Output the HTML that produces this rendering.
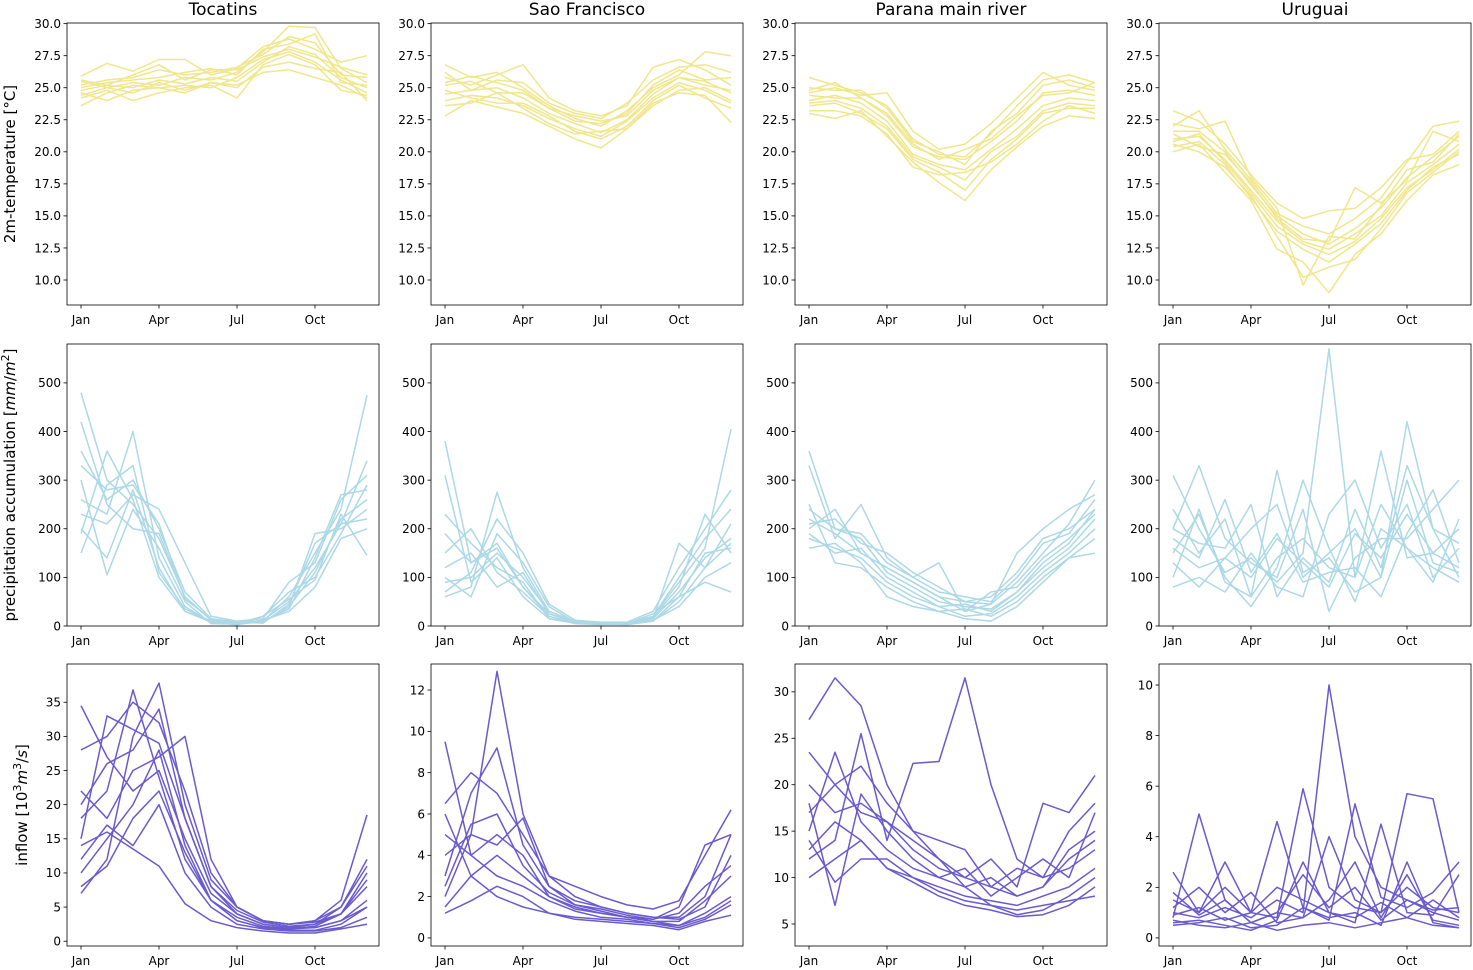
<!DOCTYPE html>
<html><head><meta charset="utf-8">
<style>
html,body{margin:0;padding:0;background:#fff;}
svg{display:block;font-family:"DejaVu Sans","Liberation Sans",sans-serif;}
</style></head>
<body>
<svg id="fig" width="1473" height="970" viewBox="0 0 1473 970" xmlns="http://www.w3.org/2000/svg"></svg>
<script>
const basins = ["Tocatins","Sao Francisco","Parana main river","Uruguai"];
const monthTicks = ["Jan","Apr","Jul","Oct"];
const monthTickIdx = [0,3,6,9];

const tempTicks = [10,12.5,15,17.5,20,22.5,25,27.5,30];
const precTicks = [0,100,200,300,400,500];
const inflowTicks1 = [0,5,10,15,20,25,30,35];
const inflowTicks2 = [0,2,4,6,8,10,12];
const inflowTicks3 = [5,10,15,20,25,30];
const inflowTicks4 = [0,2,4,6,8,10];

const tempToc = [
[24.8,25.2,25.0,25.6,25.3,25.8,25.5,27.0,28.2,27.6,25.8,25.0],
[25.5,25.0,25.4,25.2,25.8,25.6,26.2,27.8,29.8,29.7,26.5,25.4],
[23.6,24.6,25.2,25.0,24.6,25.4,25.0,26.6,27.0,26.5,26.2,24.0],
[25.9,26.9,26.3,27.2,27.2,26.0,26.5,28.2,28.8,28.0,27.0,27.5],
[24.2,24.8,24.0,24.6,25.0,25.2,24.2,26.8,27.6,26.8,24.8,24.4],
[25.2,25.6,25.8,26.4,26.0,26.2,26.6,27.6,29.0,28.5,26.0,25.8],
[24.6,24.0,24.8,25.0,25.2,25.0,25.8,27.2,27.8,27.0,25.6,24.6],
[25.0,25.4,25.6,25.8,26.2,26.5,26.0,28.0,28.4,29.2,25.4,25.2],
[24.4,25.0,24.6,25.4,24.8,25.4,25.2,26.2,26.4,25.8,25.2,24.2],
[25.6,25.2,26.0,26.8,25.6,26.4,26.4,27.4,28.0,27.4,26.6,26.0]];
const tempSao = [
[24.5,24.8,25.0,24.2,23.0,22.2,21.5,22.5,24.5,25.8,25.5,24.6],
[26.8,25.8,26.2,25.0,23.6,22.6,22.0,23.2,25.0,26.0,27.8,27.5],
[22.8,24.0,23.5,23.0,22.0,21.0,20.3,21.8,23.8,24.6,24.4,22.3],
[25.8,25.2,26.0,26.8,24.2,23.2,22.8,23.6,26.6,27.2,26.4,25.2],
[24.0,24.4,24.2,23.6,22.6,21.8,21.2,22.4,24.2,25.4,24.8,23.8],
[25.2,25.5,24.6,24.6,23.4,22.4,22.2,23.0,25.2,26.4,25.6,25.8],
[23.6,23.8,24.6,23.4,22.2,21.4,21.6,21.8,23.6,24.8,25.0,24.0],
[26.2,24.8,25.6,25.4,23.8,23.0,22.6,23.8,25.6,26.6,26.8,26.2],
[24.8,24.2,23.8,23.8,22.8,21.6,21.0,22.0,24.0,25.2,24.2,23.4],
[25.4,25.9,25.4,24.8,23.4,22.8,22.4,22.8,24.8,25.8,25.2,24.8]];
const tempPar = [
[24.0,24.4,23.8,22.4,19.8,19.0,18.6,20.2,21.8,23.6,24.2,24.0],
[25.8,25.2,24.6,23.6,21.0,19.8,19.6,21.4,23.6,25.6,26.0,25.4],
[23.0,22.6,23.2,21.2,19.2,17.6,16.2,18.6,20.4,22.0,22.8,22.6],
[24.6,25.0,24.4,24.6,21.6,20.2,20.6,22.2,24.2,26.2,25.2,24.8],
[23.6,23.8,23.0,21.8,19.4,18.4,17.0,19.4,21.0,23.0,23.4,23.4],
[24.4,24.2,24.2,22.8,20.4,19.6,19.4,20.8,22.4,24.6,24.8,24.4],
[23.2,23.2,22.8,21.4,18.8,18.2,18.4,19.2,20.6,22.4,23.6,23.0],
[25.0,24.8,24.8,23.4,20.8,20.0,19.0,21.6,23.0,25.2,25.6,25.0],
[23.8,24.0,23.4,22.0,19.6,18.8,17.8,20.0,21.2,23.2,23.8,23.6],
[24.8,25.4,24.2,23.0,20.6,19.4,20.2,21.0,22.8,24.4,24.6,25.4]];
const tempUru = [
[21.0,21.2,19.4,17.0,14.6,13.0,12.4,13.6,15.0,17.6,19.0,20.6],
[23.2,22.4,20.6,18.2,16.0,14.8,15.4,15.6,17.2,19.4,19.8,21.6],
[20.0,20.6,18.4,16.2,12.4,11.4,9.0,12.0,13.6,16.2,18.2,19.0],
[22.0,23.2,20.2,17.8,15.2,14.2,13.6,14.8,16.4,19.2,22.0,22.4],
[20.6,20.0,18.8,16.6,13.4,10.2,11.0,11.6,14.0,16.8,18.4,20.0],
[21.6,21.6,20.0,17.4,15.0,13.6,12.8,14.0,15.6,18.0,19.6,21.2],
[20.4,20.8,19.0,16.4,13.8,12.4,11.4,12.8,14.4,17.0,18.8,19.8],
[22.2,21.8,22.4,18.0,15.6,9.6,13.4,13.2,15.8,18.6,19.2,21.4],
[20.8,21.4,19.2,16.8,14.2,12.8,12.0,13.0,14.8,17.2,18.6,20.2],
[21.4,20.4,19.8,17.6,14.8,13.2,13.0,17.2,16.0,17.8,21.6,20.8]];

const precToc = [
[480,300,250,180,60,12,5,8,40,110,220,260],
[260,230,400,140,40,8,3,10,60,150,240,475],
[200,140,280,120,30,10,2,20,70,100,190,290],
[360,260,300,200,70,15,8,6,45,170,210,340],
[300,105,240,160,50,5,4,12,30,80,180,200],
[230,210,270,240,130,20,10,15,90,130,260,310],
[150,290,330,110,35,10,5,20,55,95,230,145],
[420,250,200,190,60,12,6,8,40,190,200,240],
[190,360,260,100,30,8,4,12,50,120,210,220],
[330,280,290,210,55,15,8,10,35,140,270,280]];
const precSao = [
[380,130,160,80,25,8,5,5,15,70,140,180],
[60,80,275,120,30,10,5,6,20,90,160,405],
[230,170,120,90,15,6,4,3,10,50,120,170],
[100,60,190,130,40,8,6,5,20,100,180,240],
[150,200,110,70,20,5,3,4,12,40,100,130],
[70,110,220,150,45,12,8,8,30,120,200,280],
[310,90,140,60,15,6,5,3,10,60,90,70],
[120,150,80,110,25,8,4,5,18,80,230,150],
[190,130,170,80,20,7,5,4,15,170,120,210],
[90,100,150,100,30,9,6,5,25,60,150,160]];
const precPar = [
[360,200,180,110,80,50,40,35,70,130,170,240],
[200,240,150,120,90,60,30,45,90,150,210,300],
[180,160,140,90,60,40,20,25,60,110,150,200],
[330,180,250,140,100,70,60,50,100,170,190,260],
[250,130,120,80,50,30,35,20,50,100,140,180],
[210,220,170,150,110,80,50,60,110,180,200,240],
[190,150,160,100,70,40,45,30,70,120,160,220],
[240,200,190,130,100,130,30,70,80,140,180,230],
[160,170,130,60,40,30,15,10,40,90,140,150],
[220,190,150,120,90,60,50,45,150,200,240,270]];
const precUru = [
[160,120,140,100,180,130,80,190,140,230,150,120],
[310,200,110,140,90,150,570,100,250,160,120,90],
[100,240,90,60,320,110,140,70,100,420,200,170],
[200,330,180,130,100,240,30,140,180,180,240,300],
[130,80,140,200,250,100,150,200,100,300,130,110],
[240,150,220,60,140,180,120,100,360,140,150,200],
[80,100,70,150,80,60,230,300,160,250,100,160],
[180,140,260,110,190,90,110,120,60,190,280,130],
[150,230,100,40,120,300,160,50,200,160,90,220],
[200,170,160,250,60,140,90,240,120,330,200,100]];

const inflowToc = [
[34.5,27,22,25,15,7,4,2.5,2,2.5,4,10],
[7,12,30,37.8,20,9,5,3,2.5,3,5,12],
[15,33,31,29,18,8,4,2.5,2,2,3,6],
[22,18,25,27,30,12,5,3,2.5,2.8,4,8],
[10,15,20,28,14,6,3,2,1.8,2,3,5],
[28,30,35,32,22,10,5,3,2.5,3,6,18.5],
[12,17,14,20,10,5,2.5,1.8,1.5,1.5,2,3.5],
[18,22,36.8,24,12,6,3.5,2.2,1.8,2.2,4,9],
[8,11,18,22,13,6,3,2,1.6,1.6,2.5,5],
[20,26,28,34,18,8,4.5,2.8,2.2,2.5,5,11],
[14,16,13.5,11,5.5,3,2,1.5,1.2,1.2,1.8,2.5]];
const inflowSao = [
[9.5,4,5,4,2,1.5,1.2,1,0.8,0.8,1.8,3],
[2,5,12.9,6,3,2,1.5,1.2,1,1,2,5],
[6.5,8,7,5,3,2.5,2,1.6,1.4,1.8,4,6.2],
[1.5,3,4,3,2,1.4,1.2,1,0.8,0.6,1.2,2],
[5,4,3,2.5,1.8,1.3,1,0.9,0.7,0.6,1,1.8],
[3,7,9.2,4.5,2.5,1.8,1.5,1.2,1,0.9,1.5,4],
[1.2,1.8,2.5,2.0,1.2,0.9,0.8,0.7,0.6,0.4,0.8,1.1],
[4,5,4.5,5.8,2.5,1.6,1.3,1,0.9,1.2,2.5,3.5],
[6,3,2,1.5,1.2,1,0.9,0.8,0.7,0.5,0.9,1.6],
[2.5,5.5,6,3.5,2.2,1.6,1.4,1.1,0.9,1.5,4.5,5]];
const inflowPar = [
[27,31.5,28.5,20,15,12,10,9,8,9,12,14],
[12,14,25.5,14,22.3,22.5,31.5,20,12,10,11,13],
[15,23.5,16,13,11,10,9,7,6,6.5,8,10],
[20,17,18,16,13,11,10,12,9,18,17,21],
[10,12,14,11,9.5,8,7,6.5,5.8,6,7,9],
[23.5,20,22,18,15,14,13,9,11,10,15,18],
[14,9.5,12,12,10,8.5,7.5,7,6.5,7,7.5,8],
[18,7,19,15,12,10,11,8,10,12,10,17],
[13,16,14,11,10,9,8,7.5,7,8,9,11],
[17,20,17,16,14,12,9,10,8,9,13,15]];
const inflowUru = [
[1,0.8,1.2,0.8,1.5,1,10,4,2,1.5,1,0.7],
[2.6,1,3,1,0.8,5.9,2,1.2,1,5.7,5.5,1],
[0.8,4.9,1.5,0.6,1,0.8,1.5,3,0.8,2.5,0.7,0.5],
[0.6,0.7,0.5,0.3,0.7,3,1,0.6,4.5,1,0.9,2.5],
[1.5,1,2,1,4.6,1.2,0.7,5.3,1.6,1.2,1.8,3],
[0.5,0.6,0.8,0.4,0.5,1.2,0.8,1,0.5,3,0.6,0.4],
[1.2,2,1,1.8,0.6,0.8,4,1.5,1,2,1.2,1],
[0.9,1.2,0.7,1,2,1.5,1,0.8,1.4,0.8,1.5,0.8],
[1.8,0.9,1.5,0.6,1,2.5,1.2,2,0.7,1.5,1.1,1.2],
[0.7,0.5,0.4,0.6,0.3,0.5,0.6,0.4,0.6,0.8,0.5,0.4]];

const NS = "http://www.w3.org/2000/svg";
const svg = document.getElementById("fig");
function mk(tag, attrs, parent){
  const e = document.createElementNS(NS, tag);
  for (const k in attrs) e.setAttribute(k, attrs[k]);
  (parent||svg).appendChild(e);
  return e;
}
const colX = [67,431,795,1159];
const rowY = [23,344,664];
const W = 312, H = 282;
const panels = [
 {row:0,data:[tempToc,tempSao,tempPar,tempUru],ticks:[tempTicks,tempTicks,tempTicks,tempTicks],ylim:[[8.05,30.05],[8.05,30.05],[8.05,30.05],[8.05,30.05]],fmt:v=>v.toFixed(1),color:"#f0e68c",key:"temp"},
 {row:1,data:[precToc,precSao,precPar,precUru],ticks:[precTicks,precTicks,precTicks,precTicks],ylim:[[0,580],[0,580],[0,580],[0,580]],fmt:v=>String(v),color:"#add8e6",key:"precip"},
 {row:2,data:[inflowToc,inflowSao,inflowPar,inflowUru],ticks:[inflowTicks1,inflowTicks2,inflowTicks3,inflowTicks4],ylim:[[-0.7,40.6],[-0.39,13.26],[2.63,33.0],[-0.32,10.83]],fmt:v=>String(v),color:"#6a5acd",key:"inflow"}
];

panels.forEach(p=>{
  for (let c=0;c<4;c++){
    const x0 = colX[c], y0 = rowY[p.row];
    const g = mk("g",{});
    
    
    const [ymin,ymax] = p.ylim[c];
    const xs = i => x0 + 14 + i*26;
    const ys = v => y0 + H - (v-ymin)/(ymax-ymin)*H;
    // lines
    p.data[c].forEach((series,si)=>{
      const pts = series.map((v,i)=>xs(i).toFixed(1)+","+ys(v).toFixed(1)).join(" ");
      const pl = mk("polyline",{points:pts,fill:"none",stroke:p.color,"stroke-width":1.5,"stroke-linejoin":"round"},g);
      
      
    });
    // frame
    const fr = mk("rect",{x:x0,y:y0,width:W,height:H,fill:"none",stroke:"#000","stroke-width":0.8},g);
    
    
    // x ticks
    monthTickIdx.forEach((mi,k)=>{
      const x = xs(mi);
      mk("line",{x1:x,y1:y0+H,x2:x,y2:y0+H+3.5,stroke:"#000","stroke-width":0.8},g);
      const t = mk("text",{x:x,y:y0+H+19,"font-size":12,"text-anchor":"middle",fill:"#000"},g);
      t.textContent = monthTicks[k];
      
      
    });
    // y ticks
    p.ticks[c].forEach(v=>{
      const y = ys(v);
      mk("line",{x1:x0-3.5,y1:y,x2:x0,y2:y,stroke:"#000","stroke-width":0.8},g);
      const t = mk("text",{x:x0-6,y:y+4.3,"font-size":12,"text-anchor":"end",fill:"#000"},g);
      t.textContent = p.fmt(v);
      
      
    });
    if (p.row===0){
      const t = mk("text",{x:x0+W/2,y:15,"font-size":17,"text-anchor":"middle",fill:"#000"},g);
      t.textContent = basins[c];
      
      
    }
  }
});
</script>
<text></text>
<svg width="0" height="0"></svg>
<script>
(function(){
  const NS="http://www.w3.org/2000/svg";
  const svg=document.getElementById("fig");
  const labels=[
    {x:15,y:164,html:'2m-temperature  [°C]',name:'y-axis-title-temperature'},
    {x:15,y:485,html:'precipitation accumulation  [<tspan font-style="italic">mm</tspan>/<tspan font-style="italic">m</tspan><tspan baseline-shift="super" font-size="11">2</tspan>]',name:'y-axis-title-precipitation'},
    {x:27,y:805,html:'inflow  [10<tspan baseline-shift="super" font-size="11">3</tspan><tspan font-style="italic">m</tspan><tspan baseline-shift="super" font-size="11">3</tspan>/<tspan font-style="italic">s</tspan>]',name:'y-axis-title-inflow'}
  ];
  labels.forEach(l=>{
    const t=document.createElementNS(NS,"text");
    t.setAttribute("x",l.x);t.setAttribute("y",l.y);
    t.setAttribute("font-size","15");t.setAttribute("text-anchor","middle");
    t.setAttribute("transform","rotate(-90 "+l.x+" "+l.y+")");
    t.innerHTML=l.html;
    
    
    svg.appendChild(t);
  });
})();
</script>
</body></html>
